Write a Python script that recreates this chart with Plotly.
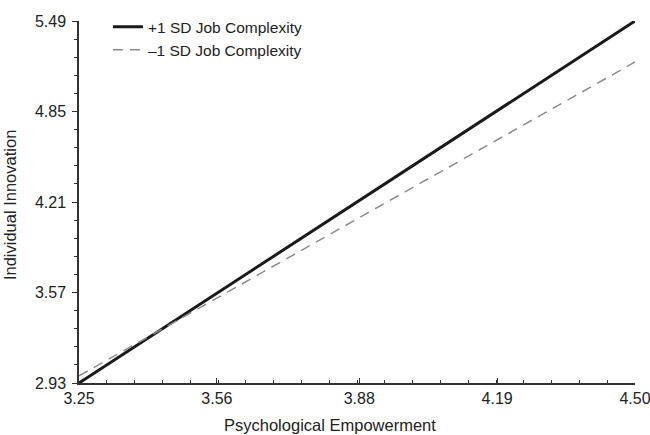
import plotly.graph_objects as go

x_vals = [3.25, 4.50]
high_sd = [2.93, 5.49]
low_sd = [2.98, 5.20]
series_names = ["+1 SD Job Complexity", "\u20131 SD Job Complexity"]
x_ticks = [3.25, 3.56, 3.88, 4.19, 4.50]
y_ticks = [2.93, 3.57, 4.21, 4.85, 5.49]

font_family = "Liberation Sans, Arial, sans-serif"

fig = go.Figure()
fig.add_trace(go.Scatter(x=x_vals, y=high_sd, mode="lines", name=series_names[0],
                         line=dict(color="#1a1a1a", width=3)))
fig.add_trace(go.Scatter(x=x_vals, y=low_sd, mode="lines", name=series_names[1],
                         line=dict(color="#8c8c8c", width=1.5, dash="10px,7px")))

fig.update_layout(
    width=650, height=435,
    margin=dict(l=79, r=15, t=21, b=52, autoexpand=False),
    paper_bgcolor="white", plot_bgcolor="white",
    font=dict(family=font_family, size=16, color="#222"),
    showlegend=True,
    legend=dict(x=0.052, y=1.03, xanchor="left", yanchor="top",
                bgcolor="rgba(0,0,0,0)", font=dict(size=15.5),
                tracegroupgap=0),
    xaxis=dict(range=[3.25, 4.50], tickvals=x_ticks,
               ticktext=[f"{v:.2f}" for v in x_ticks],
               showgrid=False, zeroline=False, showline=True,
               linecolor="#333", linewidth=1.5,
               ticks="inside", ticklen=5, tickcolor="#333",
               minor=dict(ticks="inside", ticklen=3, tickcolor="#333",
                          tick0=3.25, dtick=(4.50 - 3.25) / 20),
               tickfont=dict(size=16), ticklabeloverflow="allow"),
    yaxis=dict(range=[2.93, 5.49], tickvals=y_ticks,
               ticktext=[f"{v:.2f}" for v in y_ticks],
               showgrid=False, zeroline=False, showline=True,
               linecolor="#333", linewidth=1.5,
               ticks="outside", ticklen=5, tickcolor="#333",
               minor=dict(ticks="outside", ticklen=3, tickcolor="#333",
                          tick0=2.93, dtick=(5.49 - 2.93) / 20),
               tickfont=dict(size=16), ticklabelstandoff=3,
               ticklabeloverflow="allow"),
    annotations=[
        dict(text="Psychological Empowerment", xref="paper", yref="paper",
             x=0.451, y=-0.115, xanchor="center", yanchor="middle",
             showarrow=False, font=dict(size=16.5)),
        dict(text="Individual Innovation", xref="paper", yref="paper",
             x=-0.125, y=0.49, xanchor="center", yanchor="middle", textangle=-90,
             showarrow=False, font=dict(size=16.5)),
    ],
)

fig.write_html("out.html", config={"displayModeBar": False},
               post_script="document.body.style.margin='0';")
